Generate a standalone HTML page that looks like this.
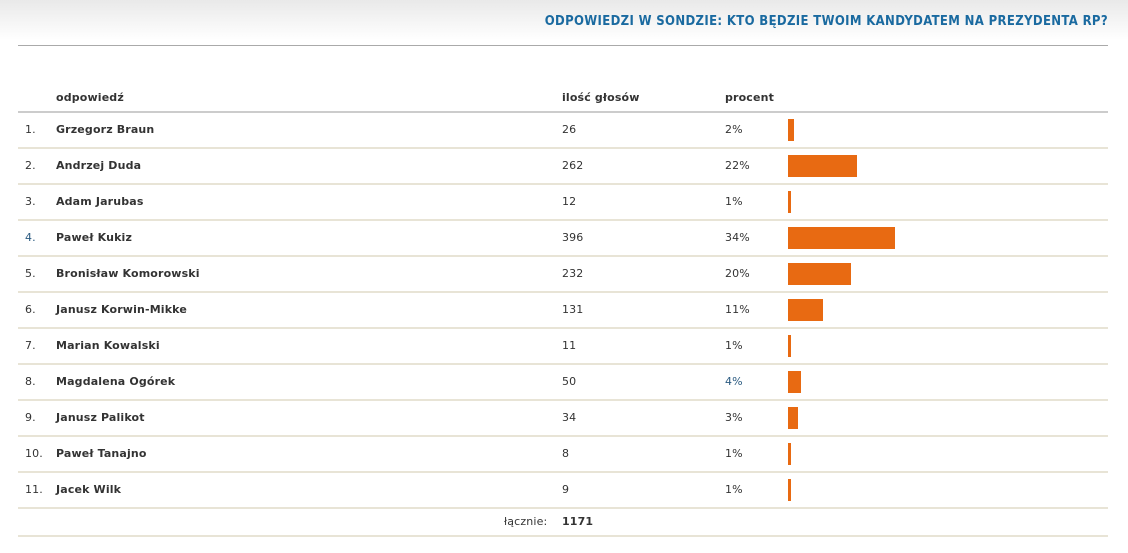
<!DOCTYPE html>
<html><head><meta charset="utf-8"><style>
body{margin:0;width:1128px;height:553px;background:#fff;font-family:"DejaVu Sans","Liberation Sans",sans-serif;color:#333;position:relative;overflow:hidden}
.top{position:absolute;left:0;top:0;width:1128px;height:45px;background:linear-gradient(#e9e9e9,#fff 40px)}
.title{position:absolute;right:20px;top:14px;font:bold 13px "DejaVu Sans Condensed","DejaVu Sans",sans-serif;color:#1a6aa0;letter-spacing:0.35px}
.hr{position:absolute;left:18px;width:1090px}
.t{position:absolute;font-size:11px;line-height:14px;white-space:nowrap;letter-spacing:0.15px}
.b{font-weight:bold}
.bar{position:absolute;left:788px;height:22px;background:#e86a12}
</style></head><body>
<div class="top"></div>
<div class="title">ODPOWIEDZI W SONDZIE: KTO BĘDZIE TWOIM KANDYDATEM NA PREZYDENTA RP?</div>
<div class="hr" style="top:45px;height:1px;background:#aaa"></div>
<div class="t b" style="left:56px;top:91px">odpowiedź</div>
<div class="t b" style="left:562px;top:91px">ilość głosów</div>
<div class="t b" style="left:725px;top:91px">procent</div>
<div class="hr" style="top:111px;height:2px;background:#ccc"></div>
<div id="rows"></div>
<div class="t" style="left:504px;top:515px">łącznie:</div>
<div class="t b" style="left:562px;top:515px">1171</div>
<script>
var d=[["Grzegorz Braun",26,"2%",6],["Andrzej Duda",262,"22%",69],["Adam Jarubas",12,"1%",3],["Paweł Kukiz",396,"34%",107],["Bronisław Komorowski",232,"20%",63],["Janusz Korwin-Mikke",131,"11%",35],["Marian Kowalski",11,"1%",3],["Magdalena Ogórek",50,"4%",13],["Janusz Palikot",34,"3%",10],["Paweł Tanajno",8,"1%",3],["Jacek Wilk",9,"1%",3]];
var h="";
d.forEach(function(r,i){var y=113+i*36;
h+='<div class="t" style="left:25px;top:'+(y+10)+'px'+(i==3?';color:#2a5a80':'')+'">'+(i+1)+'.</div>';
h+='<div class="t b" style="left:56px;top:'+(y+10)+'px">'+r[0]+'</div>';
h+='<div class="t" style="left:562px;top:'+(y+10)+'px">'+r[1]+'</div>';
h+='<div class="t" style="left:725px;top:'+(y+10)+'px'+(i==7?';color:#2a5a80':'')+'">'+r[2]+'</div>';
h+='<div class="bar" style="top:'+(y+6)+'px;width:'+r[3]+'px"></div>';
h+='<div class="hr" style="top:'+(y+34)+'px;height:2px;background:#e8e4d6"></div>';});
h+='<div class="hr" style="top:535px;height:2px;background:#e8e4d6"></div>';
document.getElementById("rows").innerHTML=h;
</script>
</body></html>
